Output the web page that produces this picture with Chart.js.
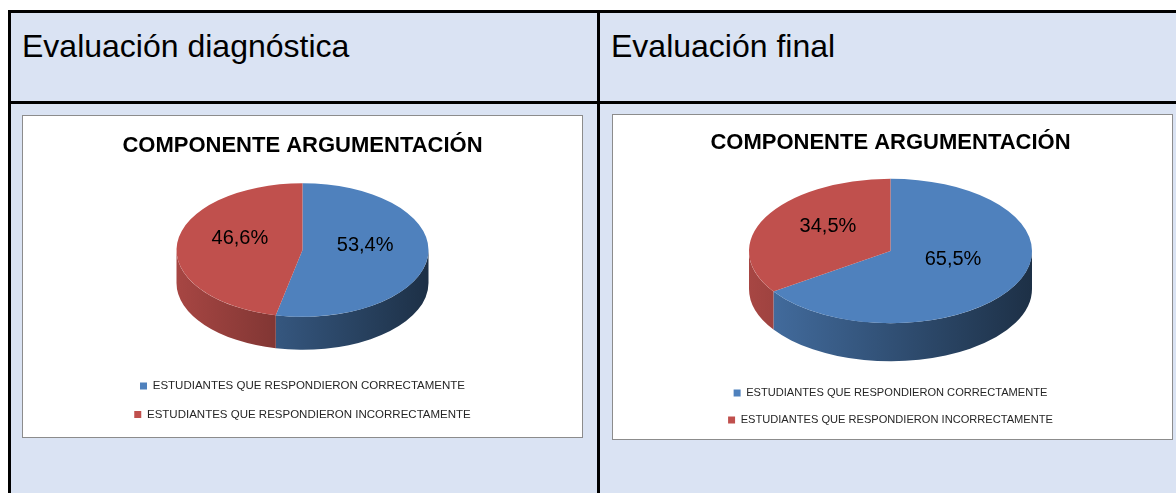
<!DOCTYPE html>
<html>
<head>
<meta charset="utf-8">
<script src="https://cdn.jsdelivr.net/npm/chart.js@4.4.1/dist/chart.umd.min.js"></script>
<style>
  html, body { margin: 0; padding: 0; background: #fff; }
  body { width: 1176px; height: 493px; overflow: hidden; position: relative; }
  #frame { position: absolute; left: 8px; top: 10px; right: 0; bottom: 0;
           background: #DAE3F3; border-top: 3px solid #000; border-left: 3px solid #000; }
  .vline { position: absolute; left: 597px; top: 10px; width: 3px; height: 483px; background: #000; }
  .hline { position: absolute; left: 8px; top: 101px; width: 1168px; height: 3px; background: #000; }
  .head { position: absolute; top: 30px; font: 32px "Liberation Sans", Arial, sans-serif;
          line-height: 32px; color: #000; white-space: nowrap; }
  .box { position: absolute; background: #fff; border: 1px solid #8c8c8c; }
  .box canvas { display: block; }
</style>
</head>
<body>
<div id="frame"></div>
<div class="vline"></div>
<div class="hline"></div>
<div class="head" style="left:22px">Evaluación diagnóstica</div>
<div class="head" style="left:611px">Evaluación final</div>
<div class="box" style="left:22px;top:115px;"><canvas id="diag" width="559" height="321"></canvas></div>
<div class="box" style="left:612px;top:114px;"><canvas id="final" width="559" height="324"></canvas></div>

<script>
/////////////////////////////// Data //////////////////////////////////

const chartTitle = 'COMPONENTE ARGUMENTACIÓN';
const answerLabels = [
    'ESTUDIANTES QUE RESPONDIERON CORRECTAMENTE',
    'ESTUDIANTES QUE RESPONDIERON INCORRECTAMENTE'
];
const diagnosticValues = [53.4, 46.6];
const finalValues = [65.5, 34.5];
const sliceColors = ['#4F81BD', '#C0504D'];

const sans = "'Liberation Sans', Arial, sans-serif";

/////////////////////////////// 3D pie plugin //////////////////////////////////

function shade(hex, f) {
    var n = parseInt(hex.slice(1), 16);
    var r = Math.round(((n >> 16) & 255) * f);
    var g = Math.round(((n >> 8) & 255) * f);
    var b = Math.round((n & 255) * f);
    return 'rgb(' + r + ',' + g + ',' + b + ')';
}

const pie3d = {
    id: 'pie3d',
    beforeDatasetsDraw(chart, args, opts) {
        var ctx = chart.ctx;
        var arcs = chart.getDatasetMeta(0).data;
        var cx = arcs[0].x, cy = arcs[0].y, r = arcs[0].outerRadius;
        var ry = r * opts.tilt;
        var top = cy - opts.depth / 2;
        var colors = chart.data.datasets[0].backgroundColor;

        // side walls, only the front half (canvas angles 0..PI) is visible
        arcs.forEach((arc, i) => {
            var a0 = Math.max(arc.startAngle, 0);
            var a1 = Math.min(arc.endAngle, Math.PI);
            if (a1 <= a0) return;
            var grad = ctx.createLinearGradient(cx - r, 0, cx + r, 0);
            grad.addColorStop(0, shade(colors[i], 0.87));
            grad.addColorStop(1, shade(colors[i], 0.37));
            ctx.beginPath();
            ctx.ellipse(cx, top, r, ry, 0, a0, a1, false);
            ctx.ellipse(cx, top + opts.depth, r, ry, 0, a1, a0, true);
            ctx.closePath();
            ctx.fillStyle = grad;
            ctx.fill();
        });

        // squash the top face drawn by Chart.js
        ctx.save();
        ctx.translate(cx, top);
        ctx.scale(1, opts.tilt);
        ctx.translate(-cx, -cy);
    },
    afterDatasetsDraw(chart, args, opts) {
        var ctx = chart.ctx;
        ctx.restore();
        var arcs = chart.getDatasetMeta(0).data;
        var values = chart.data.datasets[0].data;
        var cy = arcs[0].y;
        var top = cy - opts.depth / 2;
        ctx.save();
        ctx.font = opts.labelSize + 'px ' + sans;
        ctx.fillStyle = '#000';
        ctx.textAlign = 'center';
        ctx.textBaseline = 'middle';
        arcs.forEach((arc, i) => {
            var p = arc.tooltipPosition();
            var y = top + (p.y - cy) * opts.tilt - 8;
            ctx.fillText(values[i].toFixed(1).replace('.', ',') + '%', p.x, y);
        });
        ctx.restore();
    }
};

/////////////////////////////// PieChart //////////////////////////////////

function drawPie3d(chartid, values, cfg) {
    var ctx = document.getElementById(chartid).getContext('2d');
    return new Chart(ctx, {
        type: 'pie',
        data: {
            labels: answerLabels,
            datasets: [{
                data: values,
                backgroundColor: sliceColors,
                borderWidth: 0,
                radius: cfg.radius,
                clip: false
            }]
        },
        options: {
            responsive: false,
            animation: false,
            devicePixelRatio: 1,
            layout: { padding: cfg.padding },
            plugins: {
                title: {
                    display: true,
                    text: chartTitle,
                    color: '#000',
                    font: { family: sans, size: 22, weight: 'bold', lineHeight: 1.2 },
                    padding: cfg.titlePadding
                },
                legend: {
                    position: 'bottom',
                    labels: {
                        boxWidth: 7,
                        boxHeight: 7,
                        padding: cfg.legendPadding,
                        color: '#262626',
                        font: { family: sans, size: cfg.legendSize }
                    }
                },
                tooltip: { enabled: false },
                pie3d: { tilt: cfg.tilt, depth: cfg.depth, labelSize: 20 }
            }
        },
        plugins: [pie3d]
    });
}

drawPie3d('diag', diagnosticValues, {
    radius: 126, tilt: 0.53, depth: 33,
    padding: { left: 0, right: 0, top: 0, bottom: 6.75 },
    titlePadding: { top: 16.8, bottom: 10.55 },
    legendPadding: 17, legendSize: 11.5
});

drawPie3d('final', finalValues, {
    radius: 141.5, tilt: 0.51, depth: 38,
    padding: { left: 0, right: 4, top: 0, bottom: 3.45 },
    titlePadding: { top: 14.8, bottom: 12.25 },
    legendPadding: 15.9, legendSize: 11.1
});
</script>
</body>
</html>
